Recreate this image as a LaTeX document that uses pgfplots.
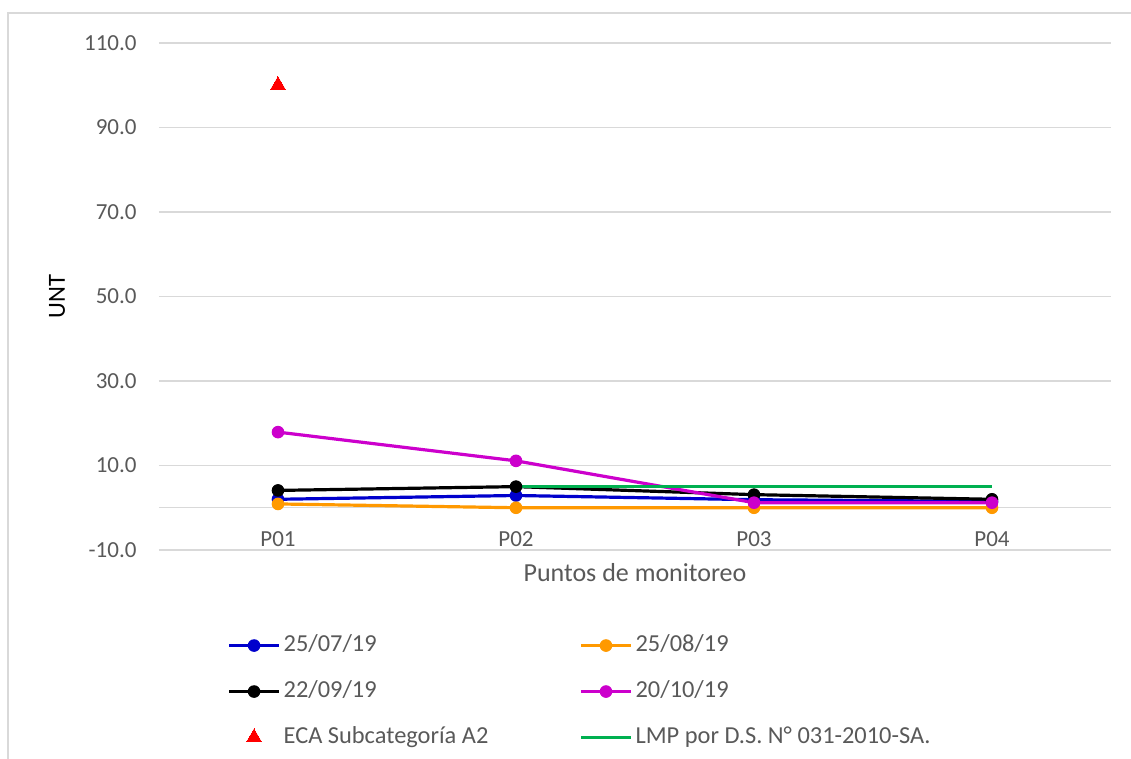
\documentclass[border=0pt]{standalone}
\usepackage{pgfplots}
\pgfplotsset{compat=1.18}
\usepackage{fontspec}
\setmainfont{Carlito}
\definecolor{txt}{HTML}{595959}
\definecolor{grd}{HTML}{D9D9D9}
\definecolor{sblue}{HTML}{0000CC}
\definecolor{sorange}{HTML}{FF9900}
\definecolor{smag}{HTML}{CC00CC}
\definecolor{sgreen}{HTML}{00B050}
\begin{document}
\begin{tikzpicture}
\useasboundingbox (-79.5pt,-104.5pt) rectangle (486pt,275pt);
\draw[grd, line width=0.75pt] (-75.5pt,-104.5pt) -- (-75.5pt,268.5pt) -- (486pt,268.5pt);
\begin{axis}[
  scale only axis, width=476pt, height=253.5pt,
  at={(0,0)}, anchor=south west,
  xmin=-0.5, xmax=3.5, ymin=-10, ymax=110,
  xtick={0,1,2,3}, xticklabels={P01,P02,P03,P04},
  ytick={-10,10,30,50,70,90,110},
  extra y ticks={0}, extra y tick labels={},
  extra y tick style={grid=major},
  ymajorgrids, grid style={grd, line width=0.75pt},
  axis line style={draw=none},
  major tick length=0pt,
  tick label style={font=\fontsize{11.5}{13}\selectfont, text=txt},
  /pgf/number format/assume math mode=true,
  yticklabel style={/pgf/number format/fixed, /pgf/number format/fixed zerofill, /pgf/number format/precision=1, anchor=east, xshift=-7.7pt},
  xticklabel style={anchor=base, yshift=1.7pt},
  xlabel={Puntos de monitoreo},
  xlabel style={at={(axis description cs:0.5,0)}, anchor=center, yshift=-11.5pt, fill=white, inner xsep=5.5pt, inner ysep=5pt, font=\fontsize{13}{15}\selectfont, text=txt},
  ylabel={UNT},
  ylabel style={at={(axis description cs:-0.1071,0.5)}, anchor=center, rotate=0, font=\fontsize{12.3}{14}\selectfont, text=black},
  legend columns=2,
  legend cell align=left,
  legend image code/.code={\draw[mark repeat=2,mark phase=2,#1] plot coordinates {(0pt,0pt) (12.5pt,0pt) (25pt,0pt)};},
  legend style={draw=none, fill=none, inner sep=0pt, at={(axis description cs:0.0715,-0.165)}, anchor=north west,
    font=\fontsize{12.2}{14}\selectfont, text=txt, row sep=11.5pt,
    nodes={text height=8.8pt, text depth=2.7pt, inner ysep=0pt, inner xsep=1.5pt},
    /tikz/every even column/.append style={column sep=44pt}},
  every axis plot/.append style={line width=1.6pt, mark size=2.9pt},
]
\addplot[sblue, mark=*, mark options={solid, fill=sblue, line width=0.5pt}] coordinates {(0,2.0) (1,2.9) (2,1.9) (3,1.5)};
\addlegendentry{25/07/19}
\addplot[sorange, mark=*, mark options={solid, fill=sorange, line width=0.5pt}] coordinates {(0,0.9) (1,0.0) (2,0.0) (3,0.0)};
\addlegendentry{25/08/19}
\addplot[black, mark=*, mark options={solid, fill=black, line width=0.5pt}] coordinates {(0,4.1) (1,5.0) (2,3.1) (3,2.0)};
\addlegendentry{22/09/19}
\addplot[smag, mark=*, mark options={solid, fill=smag, line width=0.5pt}] coordinates {(0,17.9) (1,11.1) (2,1.2) (3,1.2)};
\addlegendentry{20/10/19}
\addplot[red, only marks, mark=triangle*, mark size=4.3pt, mark options={fill=red, draw=red, line width=0pt}] coordinates {(0,100)};
\addlegendentry{ECA Subcategoría A2}
\addplot[sgreen, no marks] coordinates {(1,5) (2,5) (3,5)};
\addlegendentry{LMP por D.S. N° 031-2010-SA.}
\end{axis}
\end{tikzpicture}
\end{document}
